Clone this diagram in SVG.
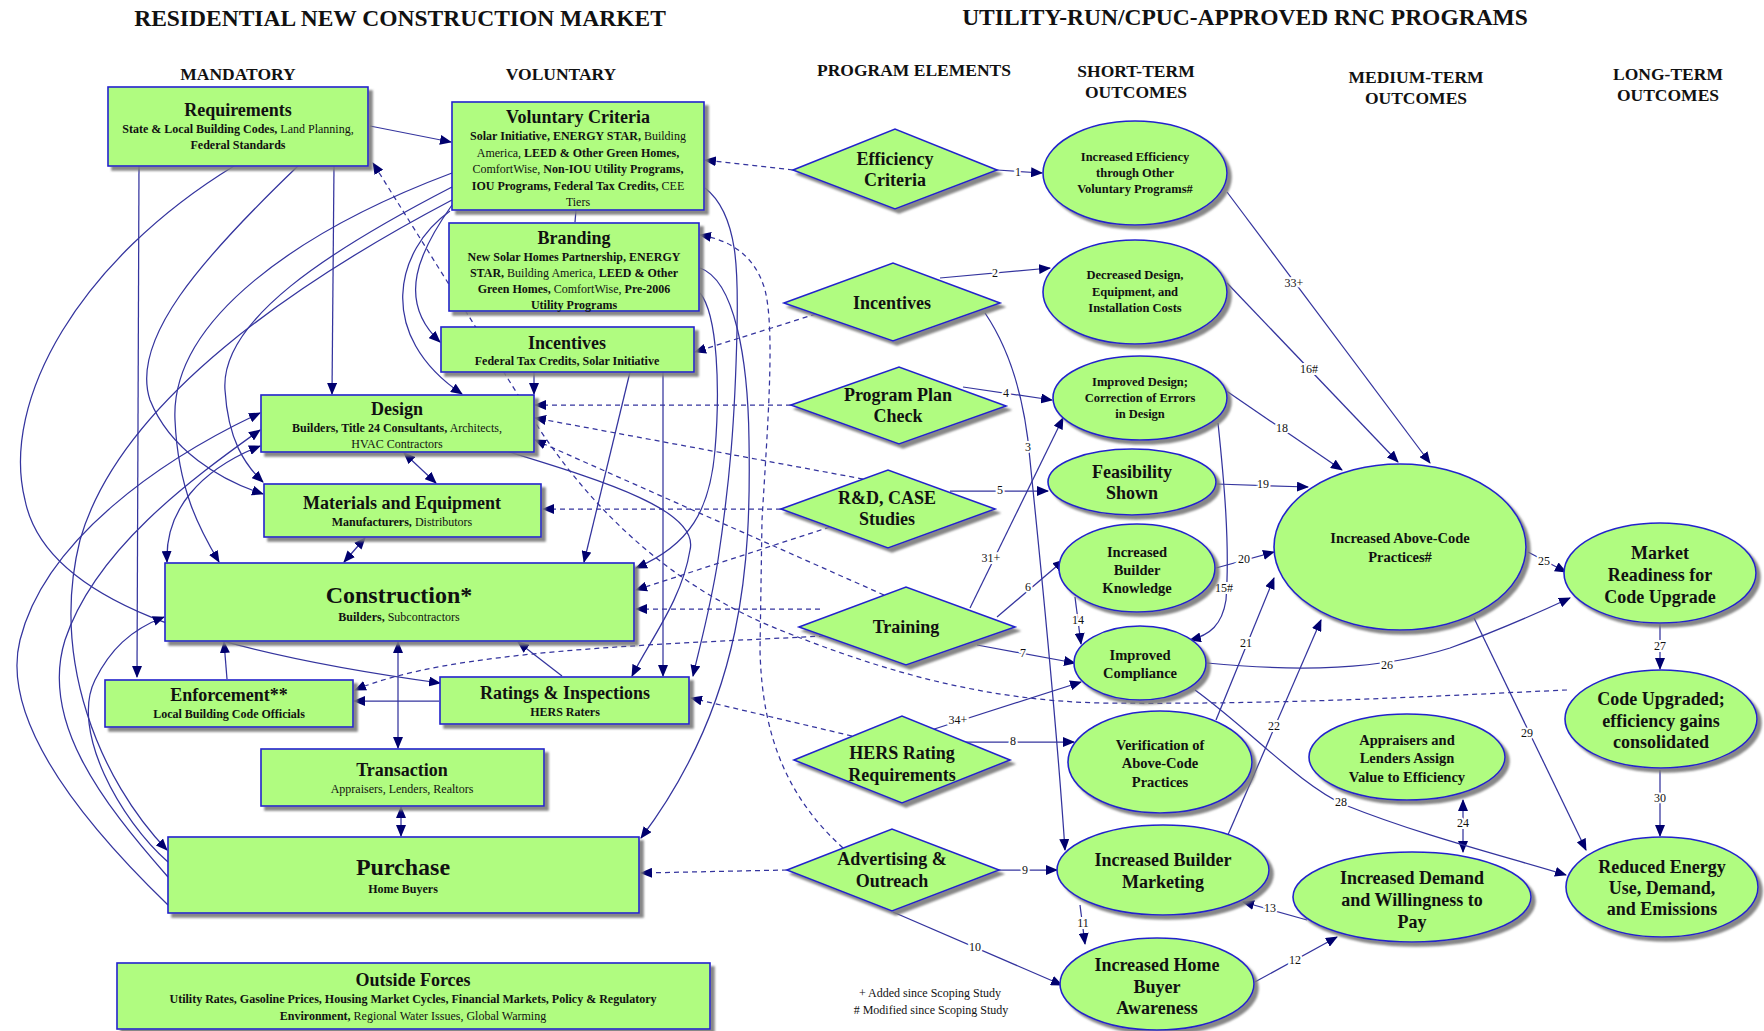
<svg xmlns="http://www.w3.org/2000/svg" width="1764" height="1031" viewBox="0 0 1764 1031">
<defs>
<style>
text{font-family:"Liberation Serif","Times New Roman",serif;fill:#111;text-anchor:middle;dominant-baseline:central}
.h{font-size:23.5px;font-weight:bold}
.c{font-size:17.5px;font-weight:bold}
.n rect,.n polygon,.n ellipse{fill:#b0fc80;stroke:#2424cc;stroke-width:1.6;filter:url(#sh)}
.t{font-size:18px;font-weight:bold}
.tb{font-size:24px;font-weight:bold}
.s{font-size:12px;font-weight:bold}
.r{font-weight:normal}
.e{font-size:12.5px;font-weight:bold}
.m{font-size:14.5px;font-weight:bold}
.ln{fill:none;stroke:#34349e;stroke-width:1.25}
.ds{stroke-dasharray:5 4}
.lb{font-size:12px;stroke:#fff;stroke-width:4;paint-order:stroke;fill:#111}
.fn{font-size:12px}
</style>
<filter id="sh" x="-10%" y="-10%" width="130%" height="130%">
<feDropShadow dx="4" dy="4" stdDeviation="0.8" flood-color="#7a7a7a" flood-opacity="0.9"/>
</filter>
<marker id="ar" viewBox="0 0 12 10" refX="11" refY="5" markerWidth="12" markerHeight="10" markerUnits="userSpaceOnUse" orient="auto-start-reverse">
<path d="M0,0 L12,5 L0,10 z" fill="#00006e"/>
</marker>
</defs>
<rect width="1764" height="1031" fill="#fff"/>

<g id="headers">
<text class="h" x="400" y="18">RESIDENTIAL NEW CONSTRUCTION MARKET</text>
<text class="h" x="1245" y="17">UTILITY-RUN/CPUC-APPROVED RNC PROGRAMS</text>
<text class="c" x="238" y="74">MANDATORY</text>
<text class="c" x="561" y="74">VOLUNTARY</text>
<text class="c" x="914" y="70">PROGRAM ELEMENTS</text>
<text class="c" x="1136" y="71">SHORT-TERM</text>
<text class="c" x="1136" y="92">OUTCOMES</text>
<text class="c" x="1416" y="77">MEDIUM-TERM</text>
<text class="c" x="1416" y="98">OUTCOMES</text>
<text class="c" x="1668" y="74">LONG-TERM</text>
<text class="c" x="1668" y="95">OUTCOMES</text>
</g>

<g id="connectors">
<!-- left market solid -->
<path class="ln" d="M139,166 L137,677" marker-end="url(#ar)"/>
<path class="ln" d="M334,166 L332,394" marker-end="url(#ar)"/>
<path class="ln" d="M370,126 L451,142" marker-end="url(#ar)"/>
<path class="ln" d="M234,166 C80,260 0,400 25,500 C45,600 200,650 440,683" marker-end="url(#ar)"/>
<path class="ln" d="M298,166 C200,260 130,340 150,400 C170,450 220,480 263,494" marker-end="url(#ar)"/>
<path class="ln" d="M452,173 C300,230 170,320 175,420 C178,490 200,530 219,562" marker-end="url(#ar)"/>
<path class="ln" d="M452,187 C330,250 220,320 225,390 C228,440 245,465 263,482" marker-end="url(#ar)"/>
<path class="ln" d="M452,200 C300,280 120,400 80,540 C50,660 100,780 167,850" marker-end="url(#ar)"/>
<path class="ln" d="M168,905 C80,820 0,720 20,640 C45,540 160,460 260,413" marker-end="url(#ar)"/>
<path class="ln" d="M168,877 C100,800 40,720 65,640 C95,550 190,480 260,430" marker-end="url(#ar)"/>
<path class="ln" d="M260,446 C200,470 165,510 167,562" marker-start="url(#ar)" marker-end="url(#ar)"/>
<path class="ln" d="M168,862 C120,820 70,730 95,680 C110,650 130,630 164,617" marker-end="url(#ar)"/>
<path class="ln" d="M450,211 C395,250 375,335 462,394" marker-end="url(#ar)"/>
<path class="ln" d="M452,205 C420,250 395,300 440,342" marker-end="url(#ar)"/>
<path class="ln" d="M576,210 L575,222"/>
<path class="ln" d="M705,188 C740,215 738,280 737,330 C735,420 730,480 718,560 C710,610 700,645 693,676" marker-end="url(#ar)"/>
<path class="ln" d="M700,268 C735,280 748,360 749,440 C751,560 745,700 641,838" marker-end="url(#ar)"/>
<path class="ln" d="M700,293 C718,315 720,390 715,450 C710,510 690,545 636,568" marker-end="url(#ar)"/>
<path class="ln" d="M509,452 C600,480 700,510 690,550 C682,600 650,640 632,676" marker-end="url(#ar)"/>
<path class="ln" d="M630,372 L584,562" marker-end="url(#ar)"/>
<path class="ln" d="M534,372 L534,394" marker-end="url(#ar)"/>
<path class="ln" d="M663,372 L663,676" marker-end="url(#ar)"/>
<path class="ln" d="M562,676 L518,642" marker-end="url(#ar)"/>
<path class="ln" d="M227,679 L224,642" marker-end="url(#ar)"/>
<path class="ln" d="M439,701 L354,701" marker-end="url(#ar)"/>
<path class="ln" d="M398,642 L398,748" marker-start="url(#ar)" marker-end="url(#ar)"/>
<path class="ln" d="M401,807 L401,836" marker-start="url(#ar)" marker-end="url(#ar)"/>
<path class="ln" d="M404,453 L436,483" marker-start="url(#ar)" marker-end="url(#ar)"/>
<path class="ln" d="M365,538 L344,562" marker-start="url(#ar)" marker-end="url(#ar)"/>

<!-- dashed program element links -->
<path class="ln ds" d="M793,170 L705,160" marker-end="url(#ar)"/>
<path class="ln ds" d="M816,314 L695,352" marker-end="url(#ar)"/>
<path class="ln ds" d="M843,848 C790,800 762,740 760,650 L762,520 C768,420 775,330 765,290 C755,255 730,240 700,235" marker-end="url(#ar)"/>
<path class="ln ds" d="M791,405 L535,405" marker-end="url(#ar)"/>
<path class="ln ds" d="M863,479 L535,418" marker-end="url(#ar)"/>
<path class="ln ds" d="M884,595 L535,440" marker-end="url(#ar)"/>
<path class="ln ds" d="M781,509 L543,509" marker-end="url(#ar)"/>
<path class="ln ds" d="M830,527 L636,590" marker-end="url(#ar)"/>
<path class="ln ds" d="M820,609 L636,609" marker-end="url(#ar)"/>
<path class="ln ds" d="M824,636 C650,645 450,650 355,690" marker-end="url(#ar)"/>
<path class="ln ds" d="M852,736 L691,698" marker-end="url(#ar)"/>
<path class="ln ds" d="M787,870 L641,873" marker-end="url(#ar)"/>
<path class="ln ds" d="M1567,690 C1450,695 1300,705 1100,703 C980,700 880,670 780,630 C680,590 600,520 540,430 L373,163" marker-end="url(#ar)"/>

<!-- numbered outcome links -->
<path class="ln" d="M997,170 L1042,173" marker-end="url(#ar)"/>
<path class="ln" d="M940,278 L1050,268" marker-end="url(#ar)"/>
<path class="ln" d="M985,313 C1010,350 1025,400 1030,460 C1040,560 1055,700 1065,850" marker-end="url(#ar)"/>
<path class="ln" d="M963,387 L1052,400" marker-end="url(#ar)"/>
<path class="ln" d="M950,491 L1048,491" marker-end="url(#ar)"/>
<path class="ln" d="M997,617 L1064,560" marker-end="url(#ar)"/>
<path class="ln" d="M977,645 L1075,663" marker-end="url(#ar)"/>
<path class="ln" d="M952,742 L1074,742" marker-end="url(#ar)"/>
<path class="ln" d="M999,870 L1057,870" marker-end="url(#ar)"/>
<path class="ln" d="M893,912 L1062,985" marker-end="url(#ar)"/>
<path class="ln" d="M1080,905 L1085,944" marker-end="url(#ar)"/>
<path class="ln" d="M1253,983 L1337,937" marker-end="url(#ar)"/>
<path class="ln" d="M1307,920 L1243,902" marker-end="url(#ar)"/>
<path class="ln" d="M1075,597 L1081,644" marker-end="url(#ar)"/>
<path class="ln" d="M1218,423 C1224,480 1230,545 1226,600 C1222,625 1210,635 1190,640" marker-end="url(#ar)"/>
<path class="ln" d="M1227,283 L1398,462" marker-end="url(#ar)"/>
<path class="ln" d="M1225,390 L1342,470" marker-end="url(#ar)"/>
<path class="ln" d="M1216,484 L1308,487" marker-end="url(#ar)"/>
<path class="ln" d="M1216,568 L1274,552" marker-end="url(#ar)"/>
<path class="ln" d="M1216,720 L1274,578" marker-end="url(#ar)"/>
<path class="ln" d="M1227,837 L1321,620" marker-end="url(#ar)"/>
<path class="ln" d="M1463,800 L1463,852" marker-start="url(#ar)" marker-end="url(#ar)"/>
<path class="ln" d="M1528,552 L1566,572" marker-end="url(#ar)"/>
<path class="ln" d="M1207,663 C1300,672 1380,670 1450,648 C1500,630 1540,612 1570,598" marker-end="url(#ar)"/>
<path class="ln" d="M1660,624 L1660,669" marker-end="url(#ar)"/>
<path class="ln" d="M1195,690 C1250,730 1300,785 1345,805 C1420,835 1500,855 1566,875" marker-end="url(#ar)"/>
<path class="ln" d="M1474,618 L1586,850" marker-end="url(#ar)"/>
<path class="ln" d="M1660,770 L1660,836" marker-end="url(#ar)"/>
<path class="ln" d="M970,608 L1063,418" marker-end="url(#ar)"/>
<path class="ln" d="M1227,192 L1430,463" marker-end="url(#ar)"/>
<path class="ln" d="M925,732 L1081,682" marker-end="url(#ar)"/>

<text class="lb" x="1018" y="172">1</text>
<text class="lb" x="995" y="273">2</text>
<text class="lb" x="1028" y="447">3</text>
<text class="lb" x="1006" y="393">4</text>
<text class="lb" x="1000" y="490">5</text>
<text class="lb" x="1028" y="587">6</text>
<text class="lb" x="1023" y="653">7</text>
<text class="lb" x="1013" y="741">8</text>
<text class="lb" x="1025" y="870">9</text>
<text class="lb" x="975" y="947">10</text>
<text class="lb" x="1083" y="923">11</text>
<text class="lb" x="1295" y="960">12</text>
<text class="lb" x="1270" y="908">13</text>
<text class="lb" x="1078" y="620">14</text>
<text class="lb" x="1224" y="588">15#</text>
<text class="lb" x="1309" y="369">16#</text>
<text class="lb" x="1282" y="428">18</text>
<text class="lb" x="1263" y="484">19</text>
<text class="lb" x="1244" y="559">20</text>
<text class="lb" x="1246" y="643">21</text>
<text class="lb" x="1274" y="726">22</text>
<text class="lb" x="1463" y="823">24</text>
<text class="lb" x="1544" y="561">25</text>
<text class="lb" x="1387" y="665">26</text>
<text class="lb" x="1660" y="646">27</text>
<text class="lb" x="1341" y="802">28</text>
<text class="lb" x="1527" y="733">29</text>
<text class="lb" x="1660" y="798">30</text>
<text class="lb" x="991" y="558">31+</text>
<text class="lb" x="1294" y="283">33+</text>
<text class="lb" x="958" y="720">34+</text>
</g>

<!-- market boxes -->
<g id="requirements" class="n"><rect x="108" y="87" width="260" height="79"/>
<text class="t" x="238" y="110">Requirements</text>
<text class="s" x="238" y="129">State &amp; Local Building Codes,<tspan class="r"> Land Planning,</tspan></text>
<text class="s" x="238" y="145">Federal Standards</text></g>

<g id="voluntary-criteria" class="n"><rect x="452" y="102" width="252" height="108"/>
<text class="t" x="578" y="117">Voluntary Criteria</text>
<text class="s" x="578" y="136">Solar Initiative, ENERGY STAR,<tspan class="r"> Building</tspan></text>
<text class="s" x="578" y="153"><tspan class="r">America,</tspan> LEED &amp; Other Green Homes,</text>
<text class="s" x="578" y="169"><tspan class="r">ComfortWise,</tspan> Non-IOU Utility Programs,</text>
<text class="s" x="578" y="186">IOU Programs, Federal Tax Credits,<tspan class="r"> CEE</tspan></text>
<text class="s r" x="578" y="202">Tiers</text></g>

<g id="branding" class="n"><rect x="449" y="223" width="250" height="88"/>
<text class="t" x="574" y="238">Branding</text>
<text class="s" x="574" y="257">New Solar Homes Partnership, ENERGY</text>
<text class="s" x="574" y="273">STAR,<tspan class="r"> Building America,</tspan> LEED &amp; Other</text>
<text class="s" x="574" y="289">Green Homes,<tspan class="r"> ComfortWise,</tspan> Pre-2006</text>
<text class="s" x="574" y="305">Utility Programs</text></g>

<g id="incentives-box" class="n"><rect x="441" y="327" width="253" height="45"/>
<text class="t" x="567" y="343">Incentives</text>
<text class="s" x="567" y="361">Federal Tax Credits, Solar Initiative</text></g>

<g id="design" class="n"><rect x="261" y="395" width="273" height="57"/>
<text class="t" x="397" y="409">Design</text>
<text class="s" x="397" y="428">Builders, Title 24 Consultants,<tspan class="r"> Architects,</tspan></text>
<text class="s r" x="397" y="444">HVAC Contractors</text></g>

<g id="materials" class="n"><rect x="264" y="484" width="277" height="53"/>
<text class="t" x="402" y="503">Materials and Equipment</text>
<text class="s" x="402" y="522">Manufacturers,<tspan class="r"> Distributors</tspan></text></g>

<g id="construction" class="n"><rect x="165" y="563" width="469" height="78"/>
<text class="tb" x="399" y="595">Construction*</text>
<text class="s" x="399" y="617">Builders,<tspan class="r"> Subcontractors</tspan></text></g>

<g id="enforcement" class="n"><rect x="105" y="680" width="248" height="47"/>
<text class="t" x="229" y="695">Enforcement**</text>
<text class="s" x="229" y="714">Local Building Code Officials</text></g>

<g id="ratings" class="n"><rect x="440" y="677" width="249" height="47"/>
<text class="t" x="565" y="693">Ratings &amp; Inspections</text>
<text class="s" x="565" y="712">HERS Raters</text></g>

<g id="transaction" class="n"><rect x="261" y="749" width="283" height="57"/>
<text class="t" x="402" y="770">Transaction</text>
<text class="s r" x="402" y="789">Appraisers, Lenders, Realtors</text></g>

<g id="purchase" class="n"><rect x="168" y="837" width="471" height="76"/>
<text class="tb" x="403" y="867">Purchase</text>
<text class="s" x="403" y="889">Home Buyers</text></g>

<g id="outside-forces" class="n"><rect x="117" y="963" width="593" height="66"/>
<text class="t" x="413" y="980">Outside Forces</text>
<text class="s" x="413" y="999">Utility Rates, Gasoline Prices, Housing Market Cycles, Financial Markets, Policy &amp; Regulatory</text>
<text class="s" x="413" y="1016">Environment,<tspan class="r"> Regional Water Issues, Global Warming</tspan></text></g>

<!-- program elements -->
<g id="pe-efficiency-criteria" class="n"><polygon points="793,170 895,129 997,170 895,209"/>
<text class="t" x="895" y="159">Efficiency</text>
<text class="t" x="895" y="180">Criteria</text></g>

<g id="pe-incentives" class="n"><polygon points="784,303 893,263 1000,303 893,341"/>
<text class="t" x="892" y="303">Incentives</text></g>

<g id="pe-program-plan-check" class="n"><polygon points="791,405 899,367 1006,406 899,444"/>
<text class="t" x="898" y="395">Program Plan</text>
<text class="t" x="898" y="416">Check</text></g>

<g id="pe-rd-case" class="n"><polygon points="781,509 888,470 995,509 888,548"/>
<text class="t" x="887" y="498">R&amp;D, CASE</text>
<text class="t" x="887" y="519">Studies</text></g>

<g id="pe-training" class="n"><polygon points="799,627 906,587 1015,627 906,665"/>
<text class="t" x="906" y="627">Training</text></g>

<g id="pe-hers" class="n"><polygon points="794,760 902,716 1010,760 902,803"/>
<text class="t" x="902" y="753">HERS Rating</text>
<text class="t" x="902" y="775">Requirements</text></g>

<g id="pe-advertising" class="n"><polygon points="787,870 892,829 999,870 892,911"/>
<text class="t" x="892" y="859">Advertising &amp;</text>
<text class="t" x="892" y="881">Outreach</text></g>

<!-- outcomes -->
<g id="st-increased-efficiency" class="n"><ellipse cx="1135" cy="173" rx="92" ry="52"/>
<text class="e" x="1135" y="157">Increased Efficiency</text>
<text class="e" x="1135" y="173">through Other</text>
<text class="e" x="1135" y="189">Voluntary Programs#</text></g>

<g id="st-decreased-costs" class="n"><ellipse cx="1135" cy="292" rx="92" ry="52"/>
<text class="e" x="1135" y="275">Decreased Design,</text>
<text class="e" x="1135" y="292">Equipment, and</text>
<text class="e" x="1135" y="308">Installation Costs</text></g>

<g id="st-improved-design" class="n"><ellipse cx="1140" cy="398" rx="87" ry="42"/>
<text class="e" x="1140" y="382">Improved Design;</text>
<text class="e" x="1140" y="398">Correction of Errors</text>
<text class="e" x="1140" y="414">in Design</text></g>

<g id="st-feasibility" class="n"><ellipse cx="1132" cy="482" rx="84" ry="33"/>
<text class="t" x="1132" y="472">Feasibility</text>
<text class="t" x="1132" y="493">Shown</text></g>

<g id="st-builder-knowledge" class="n"><ellipse cx="1137" cy="568" rx="78" ry="44"/>
<text class="m" x="1137" y="552">Increased</text>
<text class="m" x="1137" y="570">Builder</text>
<text class="m" x="1137" y="588">Knowledge</text></g>

<g id="st-improved-compliance" class="n"><ellipse cx="1140" cy="663" rx="66" ry="37"/>
<text class="m" x="1140" y="655">Improved</text>
<text class="m" x="1140" y="673">Compliance</text></g>

<g id="st-verification" class="n"><ellipse cx="1160" cy="762" rx="92" ry="51"/>
<text class="m" x="1160" y="745">Verification of</text>
<text class="m" x="1160" y="763">Above-Code</text>
<text class="m" x="1160" y="782">Practices</text></g>

<g id="st-builder-marketing" class="n"><ellipse cx="1163" cy="870" rx="106" ry="45"/>
<text class="t" x="1163" y="860">Increased Builder</text>
<text class="t" x="1163" y="882">Marketing</text></g>

<g id="st-home-buyer-awareness" class="n"><ellipse cx="1157" cy="984" rx="97" ry="46"/>
<text class="t" x="1157" y="965">Increased Home</text>
<text class="t" x="1157" y="987">Buyer</text>
<text class="t" x="1157" y="1008">Awareness</text></g>

<g id="mt-above-code" class="n"><ellipse cx="1400" cy="547" rx="126" ry="83"/>
<text class="m" x="1400" y="538">Increased Above-Code</text>
<text class="m" x="1400" y="557">Practices#</text></g>

<g id="mt-appraisers" class="n"><ellipse cx="1407" cy="757" rx="98" ry="43"/>
<text class="m" x="1407" y="740">Appraisers and</text>
<text class="m" x="1407" y="758">Lenders Assign</text>
<text class="m" x="1407" y="777">Value to Efficiency</text></g>

<g id="mt-demand" class="n"><ellipse cx="1412" cy="897" rx="119" ry="45"/>
<text class="t" x="1412" y="878">Increased Demand</text>
<text class="t" x="1412" y="900">and Willingness to</text>
<text class="t" x="1412" y="922">Pay</text></g>

<g id="lt-market-readiness" class="n"><ellipse cx="1660" cy="573" rx="96" ry="50"/>
<text class="t" x="1660" y="553">Market</text>
<text class="t" x="1660" y="575">Readiness for</text>
<text class="t" x="1660" y="597">Code Upgrade</text></g>

<g id="lt-code-upgraded" class="n"><ellipse cx="1661" cy="719" rx="96" ry="49"/>
<text class="t" x="1661" y="699">Code Upgraded;</text>
<text class="t" x="1661" y="721">efficiency gains</text>
<text class="t" x="1661" y="742">consolidated</text></g>

<g id="lt-reduced-energy" class="n"><ellipse cx="1662" cy="887" rx="96" ry="50"/>
<text class="t" x="1662" y="867">Reduced Energy</text>
<text class="t" x="1662" y="888">Use, Demand,</text>
<text class="t" x="1662" y="909">and Emissions</text></g>

<g id="footnotes">
<text class="fn" x="930" y="993">+ Added since Scoping Study</text>
<text class="fn" x="931" y="1010"># Modified since Scoping Study</text>
</g>
</svg>
